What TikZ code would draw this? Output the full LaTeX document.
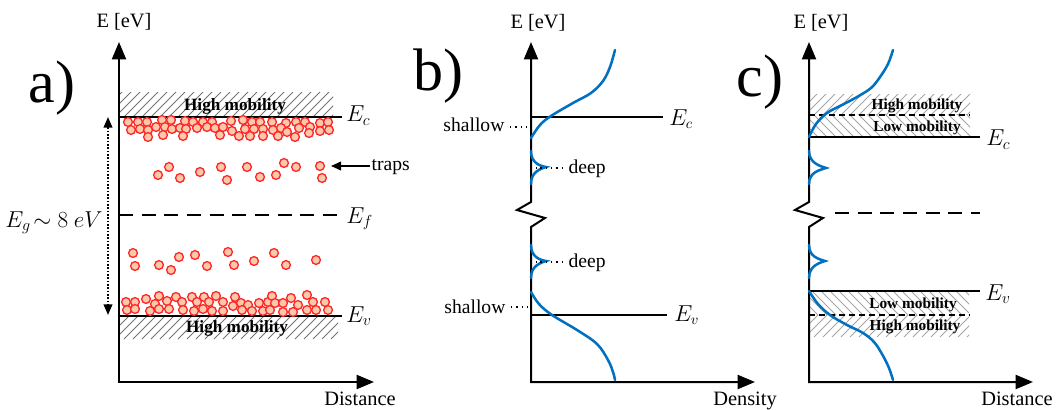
\documentclass[tikz,border=0pt]{standalone}
\usepackage{fontspec}
\setmainfont{Liberation Serif}
\usetikzlibrary{arrows.meta}
\newcommand{\myfs}[1]{\fontsize{#1}{#1}\selectfont}
\definecolor{dosblue}{RGB}{0,112,192}
\definecolor{trapred}{RGB}{255,40,40}
\definecolor{trappeach}{RGB}{250,200,170}
\newcommand{\hatchNE}[5]{%
  \begin{scope}
    \clip (#1,#2) rectangle (#3,#4);
    \foreach \k in {0,...,34} {\draw[#5] ({#1-40+9*\k},#4) -- ++(40,-40);}
  \end{scope}}
\newcommand{\hatchNW}[5]{%
  \begin{scope}
    \clip (#1,#2) rectangle (#3,#4);
    \foreach \k in {0,...,34} {\draw[#5] ({#1+9*\k},#4) -- ++(-40,-40);}
  \end{scope}}
\begin{document}
\begin{tikzpicture}[x=0.75pt,y=-0.75pt,
  axis/.style={line width=1.5pt,line join=miter},
  level/.style={line width=1.4pt},
  edash/.style={line width=1.4pt,dash pattern=on 10.5pt off 6.5pt},
  mdash/.style={line width=1.2pt,dash pattern=on 4.5pt off 3pt},
  dos/.style={draw=dosblue,line width=1.9pt,line cap=round},
  trapc/.style={draw=trapred,fill=trappeach,line width=1pt},
  hatchA/.style={draw=black!55,line width=0.7pt},
  hatchC/.style={draw=black!35,line width=0.7pt},
  dotline/.style={line width=1pt,dash pattern=on 1pt off 3pt},
  lbl/.style={inner sep=1pt,font=\myfs{15.3pt}},
  small/.style={inner sep=1pt,font=\myfs{14.7pt}},
  hm/.style={inner sep=0pt,font=\bfseries\myfs{12.9pt}},
  hmc/.style={inner sep=0pt,font=\bfseries\myfs{11.5pt}},
  elab/.style={inner sep=0pt,font=\myfs{18pt},anchor=base west},
  big/.style={inner sep=0pt,font=\myfs{45pt},anchor=base},
  bigtip/.tip={Triangle[length=13pt,width=10.5pt]},
  smalltip/.tip={Triangle[length=7.5pt,width=6.5pt]}
]
\useasboundingbox (0,0) rectangle (1057,410);

% ================= panel a =================
\hatchNE{119}{93}{333}{117}{hatchA}
\hatchNE{119}{316}{338}{339}{hatchA}
\node[big] (la) at (52,103) {a)};
\node[lbl,anchor=base] (aE) at (124,28) {E [eV]};
\node[lbl,anchor=base] (aD) at (360,405) {Distance};
\coordinate (aT) at (119,42);
\coordinate (aO) at (119,382);
\coordinate (aX) at (374,382);
\draw[axis,{bigtip}-{bigtip}] (aT) -- (aO) -- (aX);
\coordinate (aC0) at (119,117); \coordinate (aC1) at (342,117);
\coordinate (aF0) at (119,215); \coordinate (aF1) at (342,215);
\coordinate (aV0) at (119,316); \coordinate (aV1) at (342,316);
\draw[level] (aC0) -- (aC1);
\draw[edash] (aF0) -- (aF1);
\draw[level] (aV0) -- (aV1);
\node[elab] (aEc) at (346,122) {$E_c$};
\node[elab] (aEf) at (346,223) {$E_f$};
\node[elab] (aEv) at (346,322) {$E_v$};
\node[hm,anchor=base] (ahm1) at (235,110) {High mobility};
\node[hm,anchor=base] (ahm2) at (237,332) {High mobility};
% gap arrow
\coordinate (gT) at (108,117);
\coordinate (gB) at (108,315);
\draw[line width=1.3pt,dash pattern=on 1.2pt off 1.3pt,
  {Triangle[length=8pt,width=6.5pt]}-{Triangle[length=8pt,width=6.5pt]}] (gT) -- (gB);
\node[inner sep=0pt,anchor=base,font=\myfs{17pt}] (gap) at (54,227) {$E_g\!\sim 8\ eV$};
% traps label
\node[small,anchor=base west] (traps) at (370,171) {traps};
\coordinate (trapTip) at (331,166);
\draw[line width=1.3pt,-{smalltip}] (traps.west|-trapTip) -- (trapTip);
% trap circles
\foreach \x/\y in {128/122,138/122,147/122,162/120,171/120,185/121,193/122,203/122,212/122,231/121,243/120,252/122,260/122,272/122,286/123,296/122,305/122,320/123,328/122,
131/130,140/129,148/130,156/127,165/127,172/129,180/128,186/129,197/128,207/127,215/128,223/127,232/131,245/129,254/129,263/129,273/130,281/128,287/132,299/128,310/127,320/131,329/130,
148/137,163/135,183/136,220/135,239/136,250/136,263/136,278/136,295/137,309/133,
158/175,169/167,180/178,200/172,221/167,227/180,247/167,260/177,276/175,284/163,296/167,320/166,322/178,
133/253,135/266,159/265,171/270,179/257,195/255,207/266,228/252,234/265,254/261,274/253,286/265,316/260,
126/302,135/302,146/299,155/304,159/296,167/301,176/297,182/302,192/297,197/302,204/297,209/302,216/296,223/302,235/297,241/303,248/305,259/303,268/302,272/296,275/303,283/303,291/298,298/305,307/295,313/302,325/302,
127/310,135/309,150/311,159/309,169/309,183/310,194/311,203/309,212/311,223/311,233/306,242/310,252/311,263/311,270/310,283/312,293/312,307/310,316/310,328/310}
  {\draw[trapc] (\x,\y) circle (3.3pt);}

% ================= panel b =================
\node[big] (lb) at (438,90) {b)};
\node[lbl,anchor=base] (bE) at (538,29) {E [eV]};
\node[lbl,anchor=base] (bD) at (745,405) {Density};
\coordinate (bT) at (531,42);
\coordinate (bZ1) at (531,202);
\coordinate (bZ2) at (517,210);
\coordinate (bZ3) at (545,218);
\coordinate (bZ4) at (531,227);
\coordinate (bO) at (531,382);
\coordinate (bX) at (755,382);
\draw[axis,{bigtip}-{bigtip}] (bT) -- (bZ1) -- (bZ2) -- (bZ3) -- (bZ4) -- (bO) -- (bX);
\coordinate (bC0) at (531,117); \coordinate (bC1) at (663,117);
\coordinate (bV0) at (531,315); \coordinate (bV1) at (667,315);
\draw[level] (bC0) -- (bC1);
\draw[level] (bV0) -- (bV1);
\node[elab,font=\myfs{16pt}] (bEc) at (669,125) {$E_c$};
\node[elab,font=\myfs{16pt}] (bEv) at (674,321) {$E_v$};
\draw[dos] plot[smooth,tension=0.6] coordinates {(531,138) (540,125) (551,116) (573,103) (591,93) (603,81) (610,67) (615,50)};
\draw[dos] plot[smooth,tension=0.6] coordinates {(531,292) (539,304) (552,315) (577,330) (597,344) (608,360) (613,372) (615,380)};
\draw[dos] (531,151) .. controls (531,163) and (540,166) .. (546,167) .. controls (540,169) and (531,172) .. (531,184);
\draw[dos] (531,245) .. controls (531,257) and (540,260) .. (546,261) .. controls (540,263) and (531,266) .. (531,278);
\node[small,anchor=base east] (bsh1) at (506,132) {shallow};
\node[small,anchor=base east] (bsh2) at (507,313) {shallow};
\node[small,anchor=base west] (bdp1) at (567,173) {deep};
\node[small,anchor=base west] (bdp2) at (567,267) {deep};
\coordinate (bs1) at (531,127); \coordinate (bs2) at (531,307);
\coordinate (bd1) at (536,168); \coordinate (bd2) at (536,262);
\draw[dotline] (bsh1.east|-bs1) ++(4,0) -- (bs1);
\draw[dotline] (bsh2.east|-bs2) ++(4,0) -- (bs2);
\draw[dotline] (bdp1.west|-bd1) ++(-4,0) -- (bd1);
\draw[dotline] (bdp2.west|-bd2) ++(-4,0) -- (bd2);

% ================= panel c =================
\hatchNE{809}{95}{970}{115}{hatchC}
\hatchNW{809}{115}{970}{137}{hatchC}
\hatchNW{809}{291}{969}{315}{hatchC}
\hatchNE{809}{315}{969}{337}{hatchC}
\node[big] (lc) at (760,97) {c)};
\node[lbl,anchor=base] (cE) at (821,29) {E [eV]};
\node[lbl,anchor=base] (cD) at (1017,405) {Distance};
\coordinate (cT) at (809,42);
\coordinate (cZ1) at (809,202);
\coordinate (cZ2) at (795,210);
\coordinate (cZ3) at (823,218);
\coordinate (cZ4) at (809,227);
\coordinate (cO) at (809,382);
\coordinate (cX) at (1033,382);
\draw[axis,{bigtip}-{bigtip}] (cT) -- (cZ1) -- (cZ2) -- (cZ3) -- (cZ4) -- (cO) -- (cX);
\coordinate (cH0) at (809,115); \coordinate (cH1) at (970,115);
\coordinate (cL0) at (809,315); \coordinate (cL1) at (970,315);
\draw[mdash] (cH0) -- (cH1);
\draw[mdash] (cL0) -- (cL1);
\coordinate (cC0) at (809,137); \coordinate (cC1) at (980,137);
\coordinate (cF0) at (835,213); \coordinate (cF1) at (980,213);
\coordinate (cV0) at (809,291); \coordinate (cV1) at (980,291);
\draw[level] (cC0) -- (cC1);
\draw[edash] (cF0) -- (cF1);
\draw[level] (cV0) -- (cV1);
\node[elab] (cEc) at (986,146) {$E_c$};
\node[elab] (cEv) at (985,300) {$E_v$};
\node[hmc,anchor=base] (chm1) at (917,109) {High mobility};
\node[hmc,anchor=base] (clm1) at (917,132) {Low mobility};
\node[hmc,anchor=base] (clm2) at (913,308) {Low mobility};
\node[hmc,anchor=base] (chm2) at (915,330) {High mobility};
\draw[dos] plot[smooth,tension=0.6] coordinates {(809,137) (816,124) (827,113) (842,105) (857,97) (871,88) (880,77) (888,64) (893,50)};
\draw[dos] plot[smooth,tension=0.6] coordinates {(809,291) (818,304) (830,315) (847,325) (863,333) (874,342) (882,354) (889,368) (893,380)};
\draw[dos] (809,151) .. controls (809,163) and (820,166) .. (826,168) .. controls (820,170) and (809,172) .. (809,184);
\draw[dos] (809,245) .. controls (809,257) and (819,259) .. (825,261) .. controls (819,263) and (809,266) .. (809,278);
\end{tikzpicture}
\end{document}
